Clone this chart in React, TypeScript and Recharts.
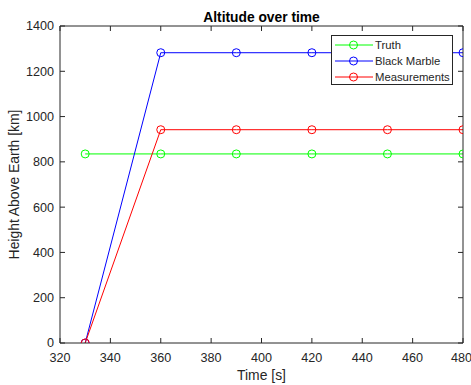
import React from 'react';
import { LineChart, Line, XAxis, YAxis, Legend, Customized } from 'recharts';

const times = [330, 360, 390, 420, 450, 480];
const truth = [835, 835, 835, 835, 835, 835];
const blackMarble = [0, 1282, 1282, 1282, 1282, 1282];
const measurements = [0, 942, 942, 942, 942, 942];
const xTicks = [320, 340, 360, 380, 400, 420, 440, 460, 480];
const yTicks = [0, 200, 400, 600, 800, 1000, 1200, 1400];
const seriesKeys = ['truth', 'bm', 'meas'];
const seriesNames = ['Truth', 'Black Marble', 'Measurements'];
const seriesColors = ['#00ff00', '#0000ff', '#ff0000'];

const data = times.map((t, i) => ({ t, truth: truth[i], bm: blackMarble[i], meas: measurements[i] }));

const FONT = '"Liberation Sans", Arial, Helvetica, sans-serif';
const AX = '#262626';
const tickStyle = { fill: AX, fontSize: 12.6, fontFamily: FONT };
const hiddenTick = { fill: 'none', fontSize: 1 };
const noLabel = () => '';

const LegendBox = () => (
  <div
    style={{
      position: 'absolute',
      left: 0,
      top: 0,
      width: 120,
      height: 47,
      border: `1px solid ${AX}`,
      background: '#fff',
      paddingTop: 1,
      fontFamily: FONT,
      fontSize: 11.3,
      color: AX,
    }}
  >
    {seriesNames.map((name, i) => (
      <div key={name} style={{ position: 'relative', height: 16 }}>
        <svg width={44} height={16} style={{ position: 'absolute', left: 0, top: 0 }}>
          <line x1={3} x2={41} y1={8} y2={8} stroke={seriesColors[i]} strokeWidth={1} />
          <circle cx={21.5} cy={8} r={4} fill="none" stroke={seriesColors[i]} strokeWidth={1} />
        </svg>
        <span style={{ position: 'absolute', left: 43, top: 0, lineHeight: '16px', whiteSpace: 'nowrap' }}>{name}</span>
      </div>
    ))}
  </div>
);

const Title = () => (
  <text x={261.5} y={22} textAnchor="middle" fontWeight="bold" fontSize={13.8} fontFamily={FONT} fill="#000">
    Altitude over time
  </text>
);

export default function App() {
  return (
    <div style={{ position: 'absolute', left: 0, top: 0, width: 471, height: 385, background: '#fff', fontFamily: FONT }}>
      <LineChart width={471} height={385} data={data} margin={{ top: 25, right: 7, bottom: 0, left: 0 }}>
        <XAxis
          dataKey="t"
          type="number"
          domain={[320, 480]}
          ticks={xTicks}
          allowDataOverflow
          height={42}
          stroke={AX}
          tickSize={-5}
          tickMargin={15}
          tick={tickStyle}
          label={{ value: 'Time [s]', position: 'center', dy: 11, fill: AX, fontSize: 13.9, fontFamily: FONT }}
        />
        <XAxis
          xAxisId="top"
          orientation="top"
          dataKey="t"
          type="number"
          domain={[320, 480]}
          ticks={xTicks}
          allowDataOverflow
          height={1}
          stroke={AX}
          tickSize={-5}
          tick={hiddenTick}
          tickFormatter={noLabel}
        />
        <YAxis
          type="number"
          domain={[0, 1400]}
          ticks={yTicks}
          allowDataOverflow
          width={60}
          stroke={AX}
          tickSize={-5}
          tickMargin={11}
          tick={tickStyle}
          label={{ value: 'Height Above Earth [km]', angle: -90, position: 'center', dx: -16, fill: AX, fontSize: 13.9, fontFamily: FONT }}
        />
        <YAxis
          yAxisId="right"
          orientation="right"
          dataKey="truth"
          type="number"
          domain={[0, 1400]}
          ticks={yTicks}
          allowDataOverflow
          width={1}
          stroke={AX}
          tickSize={-5}
          tick={hiddenTick}
          tickFormatter={noLabel}
        />
        {seriesKeys.map((k, i) => (
          <Line
            key={k}
            dataKey={k}
            name={seriesNames[i]}
            stroke={seriesColors[i]}
            strokeWidth={1}
            dot={{ r: 4, fill: 'none', stroke: seriesColors[i], strokeWidth: 1 }}
            activeDot={false}
            isAnimationActive={false}
          />
        ))}
        <Legend
          layout="vertical"
          align="center"
          verticalAlign="middle"
          content={() => <LegendBox />}
          wrapperStyle={{ position: 'absolute', left: 331, top: 35, width: 122, height: 49 }}
        />
        <Customized component={Title} />
      </LineChart>
    </div>
  );
}
